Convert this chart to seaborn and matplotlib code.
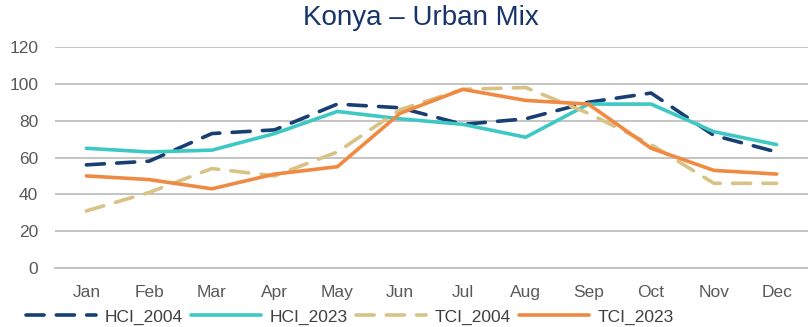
import matplotlib
matplotlib.use("Agg")
import matplotlib.pyplot as plt
import seaborn as sns
import pandas as pd

months = ["Jan", "Feb", "Mar", "Apr", "May", "Jun",
          "Jul", "Aug", "Sep", "Oct", "Nov", "Dec"]
hci_2004 = [56, 58, 73, 75, 89, 87, 78, 81, 90, 95, 72, 63]
hci_2023 = [65, 63, 64, 73, 85, 81, 78, 71, 89, 89, 74, 67]
tci_2004 = [31, 41, 54, 50, 63, 86, 97, 98, 84, 67, 46, 46]
tci_2023 = [50, 48, 43, 51, 55, 84, 97, 91, 89, 65, 53, 51]
series_names = ["HCI_2004", "HCI_2023", "TCI_2004", "TCI_2023"]
y_ticks = [0, 20, 40, 60, 80, 100, 120]
title = "Konya \u2013 Urban Mix"

colors = {"HCI_2004": "#173F73", "HCI_2023": "#3EC8C4",
          "TCI_2004": "#D8C286", "TCI_2023": "#F08A42"}
dashed = {"HCI_2004": True, "HCI_2023": False,
          "TCI_2004": True, "TCI_2023": False}

sns.set_theme(style="white")
plt.rcParams["font.family"] = ["Liberation Sans", "DejaVu Sans"]

df = pd.DataFrame({"month": months, "HCI_2004": hci_2004, "HCI_2023": hci_2023,
                   "TCI_2004": tci_2004, "TCI_2023": tci_2023})
long = df.melt(id_vars="month", var_name="series", value_name="value")
long["x"] = long["month"].map({m: i for i, m in enumerate(months)})

fig = plt.figure(figsize=(8.08, 3.27), dpi=100)
ax = fig.add_axes([55 / 808, 59 / 327, 1 - 55 / 808, (268 - 47) / 327])

for name in series_names:
    sub = long[long["series"] == name]
    sns.lineplot(data=sub, x="x", y="value", ax=ax,
                 color=colors[name], linewidth=2.6, label=name)
    ln = ax.get_lines()[-1]
    if dashed[name]:
        ln.set_dashes((5, 3.4))
        ln.set_dash_capstyle("round")
    else:
        ln.set_solid_capstyle("round")
        ln.set_solid_joinstyle("round")

ax.set_xlim(-0.5, 11.42)
ax.set_ylim(0, 120)
ax.set_yticks(y_ticks)
ax.set_yticklabels([str(v) for v in y_ticks], color="#595959", fontsize=12.5)
ax.yaxis.grid(True, color="#BFBFBF", linewidth=1.3)
ax.set_axisbelow(True)

# category labels at the centres, tick marks at the boundaries
ax.set_xticks(range(len(months)))
ax.set_xticklabels(months, color="#595959", fontsize=12.5)
ax.set_xticks([i - 0.5 for i in range(len(months) + 1)], minor=True)
ax.tick_params(axis="x", which="major", length=0, pad=12)
ax.tick_params(axis="x", which="minor", length=6, width=1.2, color="#BFBFBF", direction="out")
ax.tick_params(axis="y", length=0, pad=12)
ax.set_xlabel("")
ax.set_ylabel("")
for side in ["top", "right", "left"]:
    ax.spines[side].set_visible(False)
ax.spines["bottom"].set_color("#BFBFBF")
ax.spines["bottom"].set_linewidth(1.3)

if ax.get_legend():
    ax.get_legend().remove()
handles = ax.get_lines()[:4]
fig.legend(handles, series_names, loc="center", bbox_to_anchor=(350 / 808, 1 - 317 / 327),
           ncol=4, frameon=False, fontsize=12.5, handlelength=4.0, handletextpad=0.5,
           columnspacing=0.5, labelcolor="#404040")

fig.text(421 / 808, 1 - 18 / 327, title, ha="center", va="center",
         fontsize=20, color="#18356B")

fig.savefig("out.png", dpi=100)
